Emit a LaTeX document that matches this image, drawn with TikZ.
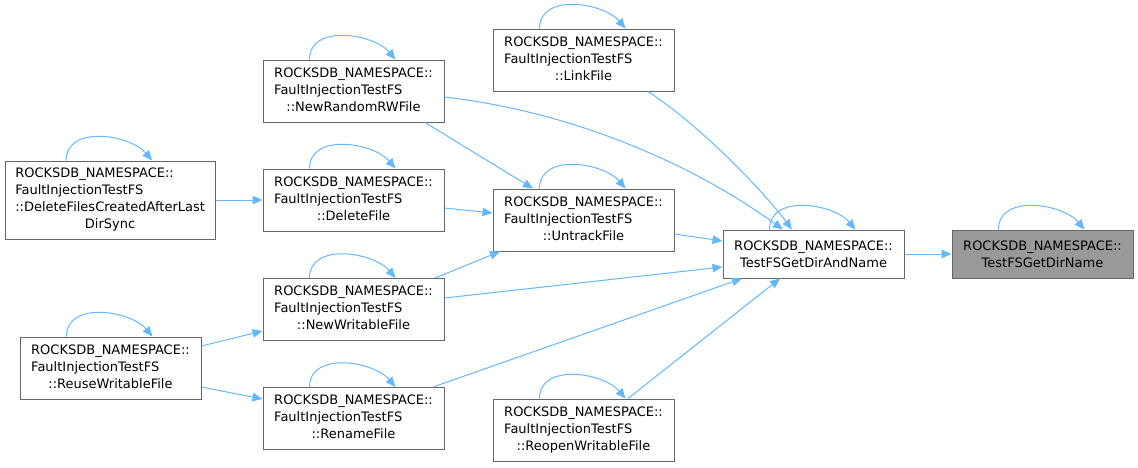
\documentclass[tikz,border=0pt]{standalone}
\usepackage{fontspec}
\setmainfont{DejaVu Sans}
\usepackage{xcolor}
\usetikzlibrary{arrows.meta,positioning,calc}
\definecolor{edgeblue}{HTML}{63B8FF}
\definecolor{boxgray}{HTML}{666666}
\definecolor{curfill}{HTML}{999999}
\newcommand{\fnlabel}[2]{\begin{tabular}{@{}l@{}}#1\\\multicolumn{1}{@{}c@{}}{#2}\end{tabular}}

\begin{document}
\begin{tikzpicture}[x=1pt,y=-1pt,font=\fontsize{13}{17}\selectfont,
  fn/.style={draw=boxgray,line width=1pt,fill=white,inner xsep=10pt,inner ysep=0pt,
    minimum width=181pt,minimum height=62pt},
  cur/.style={fn,fill=curfill,minimum height=48pt,align=center},
  ed/.style={-{Triangle[length=10pt,width=8.5pt]},draw=edgeblue,line width=1pt}]
\useasboundingbox (0,0) rectangle (1138,467);
% functions
\node[fn,minimum height=48pt,align=center] (dan) at (813.5,254)
  {ROCKSDB\_NAMESPACE::\\TestFSGetDirAndName};
\node[cur,right=47pt of dan] (dn) {ROCKSDB\_NAMESPACE::\\TestFSGetDirName};
\node[fn] (lf) at (583.5,60)
  {\fnlabel{ROCKSDB\_NAMESPACE::\\FaultInjectionTestFS}{::LinkFile}};
\node[fn] (uf) at (583.5,220)
  {\fnlabel{ROCKSDB\_NAMESPACE::\\FaultInjectionTestFS}{::UntrackFile}};
\node[fn] (rwf) at (583.5,430)
  {\fnlabel{ROCKSDB\_NAMESPACE::\\FaultInjectionTestFS}{::ReopenWritableFile}};
\node[fn] (nrw) at (353.5,91)
  {\fnlabel{ROCKSDB\_NAMESPACE::\\FaultInjectionTestFS}{::NewRandomRWFile}};
\node[fn] (df) at (353.5,200)
  {\fnlabel{ROCKSDB\_NAMESPACE::\\FaultInjectionTestFS}{::DeleteFile}};
\node[fn] (nwf) at (353.5,309.5)
  {\fnlabel{ROCKSDB\_NAMESPACE::\\FaultInjectionTestFS}{::NewWritableFile}};
\node[fn] (rf) at (353.5,418.5)
  {\fnlabel{ROCKSDB\_NAMESPACE::\\FaultInjectionTestFS}{::RenameFile}};
\node[fn,minimum height=78pt,left=47pt of df] (dfc)
  {\fnlabel{ROCKSDB\_NAMESPACE::\\FaultInjectionTestFS\\::DeleteFilesCreatedAfterLast}{DirSync}};
\node[fn] (rwr) at (110.5,368)
  {\fnlabel{ROCKSDB\_NAMESPACE::\\FaultInjectionTestFS}{::ReuseWritableFile}};
% self calls
\foreach \n in {dn,dan,lf,uf,rwf,nrw,df,nwf,rf,dfc,rwr}
  \draw[ed] ([xshift=-44pt]\n.north) .. controls +(0,-36) and +(-22,-26) .. ([xshift=42pt]\n.north);
% calls
\draw[ed] (dan.east) -- (dn.west);
\draw[ed] ([xshift=64.5pt]lf.south) .. controls +(52,34) and +(-30,-40) .. ([xshift=-21.5pt]dan.north);
\draw[ed] ([yshift=-6pt]nrw.east) .. controls +(130,15) and +(-90,-65) .. ([xshift=-30.5pt]dan.north);
\draw[ed] ([xshift=71.5pt]nrw.south) -- ([xshift=-50.5pt]uf.north);
\draw[ed] ([yshift=-8pt]df.east) -- ([yshift=7pt]uf.west);
\draw[ed] ([xshift=81.5pt]nwf.north) -- ([xshift=-83.5pt]uf.south);
\draw[ed] ([yshift=-14pt]uf.east) -- ([yshift=13pt]dan.west);
\draw[ed] ([yshift=11.5pt]nwf.east) -- ([yshift=-13pt]dan.west);
\draw[ed] ([xshift=79.5pt]rf.north) -- ([xshift=-71.5pt]dan.south);
\draw[ed] ([xshift=44.5pt]rwf.north) -- ([xshift=-33.5pt]dan.south);
\draw[ed] (dfc.east) -- (df.west);
\draw[ed] ([yshift=22pt]rwr.east) -- ([yshift=-21.5pt]nwf.west);
\draw[ed] ([yshift=-19pt]rwr.east) -- ([yshift=19.5pt]rf.west);
\end{tikzpicture}
\end{document}
